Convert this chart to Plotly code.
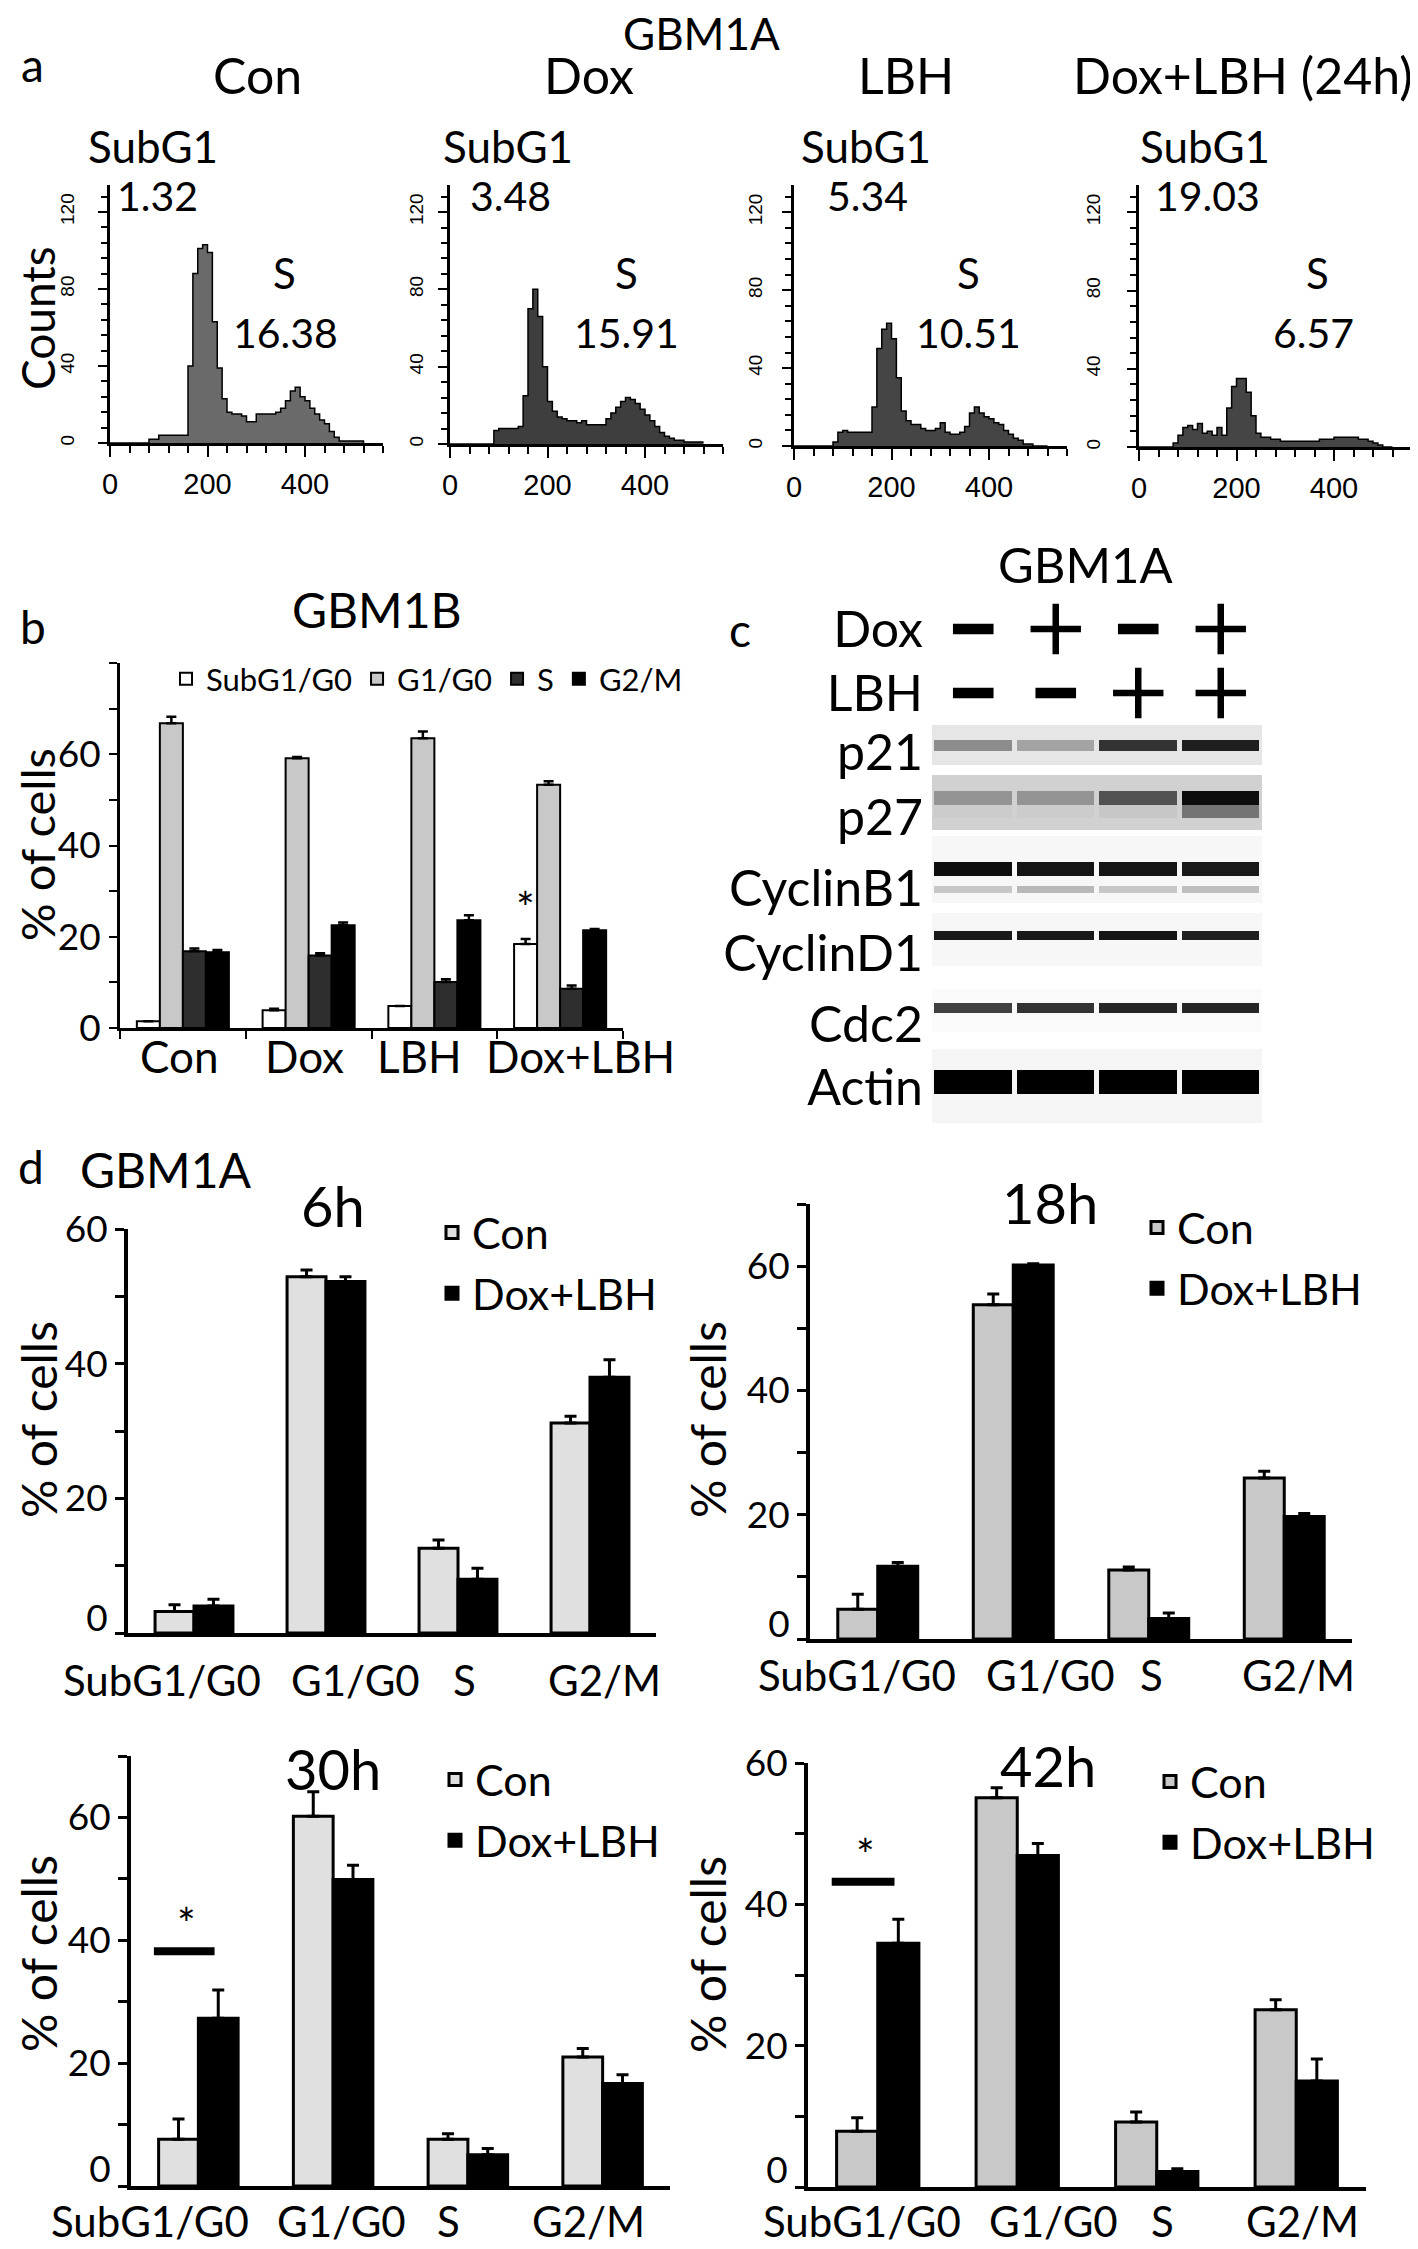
import plotly.graph_objects as go

# The page body adds an 8 px margin, so the figure is drawn 8 px smaller and positions are offset.
OFF = 8
W, H = 1418 - OFF, 2249 - OFF
FONT = "Lato"


def px_x(x):
    return (x - OFF) / W


def px_y(y):
    return 1 - (y - OFF) / H


def dom_x(left, right):
    return [px_x(left), px_x(right)]


def dom_y(top, bottom):
    return [px_y(bottom), px_y(top)]


# ---------------- DATA ----------------
# Panel a: flow cytometry histograms (GBM1A), DNA-content channel vs counts
channel = [0, 10, 20, 30, 40, 50, 60, 70, 80, 90, 100, 110, 120, 130, 140, 150, 160, 170, 180, 190,
           200, 210, 220, 230, 240, 250, 260, 270, 280, 290, 300, 310, 320, 330, 340, 350, 360, 370,
           380, 390, 400, 410, 420, 430, 440, 450, 460, 470, 480, 490, 500, 510, 520]
counts_con = [0, 0, 0, 0, 0, 0, 0, 0, 2, 2, 4, 4, 4, 4, 4, 4, 40, 88, 101, 103, 99, 63, 39, 23, 16, 15,
              15, 14, 11, 11, 15, 15, 15, 15, 16, 18, 22, 27, 29, 24, 22, 18, 15, 12, 10, 6, 3, 1, 1, 1,
              1, 1, 0]
counts_dox = [0, 0, 0, 0, 0, 0, 0, 0, 0, 7, 8, 8, 8, 8, 9, 25, 70, 80, 66, 40, 22, 17, 14, 13, 12, 12,
              11, 12, 10, 10, 10, 10, 13, 16, 19, 22, 24, 23, 21, 18, 15, 12, 9, 6, 4, 3, 2, 2, 1, 1,
              1, 1, 1]
counts_lbh = [0, 0, 0, 0, 0, 0, 0, 0, 2, 7, 8, 7, 7, 7, 7, 7, 20, 50, 60, 63, 55, 35, 18, 13, 11, 11,
              9, 8, 8, 9, 12, 7, 6, 6, 7, 10, 17, 20, 17, 15, 14, 12, 11, 8, 6, 4, 3, 1, 1, 0, 0, 0, 0]
counts_doxlbh = [0, 0, 0, 0, 0, 0, 0, 2, 6, 10, 11, 9, 12, 7, 8, 6, 10, 6, 20, 31, 35, 35, 28, 16, 7,
                 5, 5, 4, 4, 3, 3, 3, 3, 3, 3, 3, 3, 4, 4, 4, 5, 5, 5, 5, 5, 4, 4, 3, 2, 1, 0, 0, 0]
hist_titles = ["Con", "Dox", "LBH", "Dox+LBH (24h)"]
subg1_pct = ["1.32", "3.48", "5.34", "19.03"]
s_pct = ["16.38", "15.91", "10.51", "6.57"]

# Panel b: GBM1B cell-cycle distribution
b_groups = ["Con", "Dox", "LBH", "Dox+LBH"]
b_phases = ["SubG1/G0", "G1/G0", "S", "G2/M"]
b_subg1 = [1.5, 3.9, 4.8, 18.4]
b_subg1_err = [0.0, 0.3, 0.0, 1.1]
b_g1 = [66.8, 59.1, 63.5, 53.3]
b_g1_err = [1.4, 0.3, 1.5, 0.8]
b_s = [16.8, 15.9, 10.1, 8.6]
b_s_err = [0.6, 0.5, 0.6, 0.7]
b_g2m = [16.6, 22.5, 23.6, 21.4]
b_g2m_err = [0.5, 0.6, 1.1, 0.3]

# Panel c: western blot (GBM1A), relative band darkness 0..1 per lane
lanes = [1, 2, 3, 4]
dox_treat = ["-", "+", "-", "+"]
lbh_treat = ["-", "-", "+", "+"]
blot_names = ["p21", "p27", "CyclinB1", "CyclinD1", "Cdc2", "Actin"]
band_p21 = [0.45, 0.36, 0.80, 0.88]
band_p27 = [0.42, 0.42, 0.68, 0.95]
band_p27_smear = [0.20, 0.20, 0.22, 0.55]
band_cyclinb1 = [0.95, 0.92, 0.92, 0.90]
band_cyclinb1_low = [0.22, 0.28, 0.22, 0.25]
band_cyclind1 = [0.90, 0.90, 0.92, 0.88]
band_cdc2 = [0.75, 0.80, 0.85, 0.85]
band_actin = [1.0, 1.0, 1.0, 1.0]
blot_background = [0.10, 0.18, 0.03, 0.03, 0.02, 0.04]

# Panel d: GBM1A time course
d_phases = ["SubG1/G0", "G1/G0", "S", "G2/M"]
d_times = ["6h", "18h", "30h", "42h"]
d6_con = [3.2, 52.9, 12.6, 31.2]
d6_con_err = [1.0, 1.0, 1.2, 1.0]
d6_dl = [4.0, 52.2, 8.0, 38.0]
d6_dl_err = [1.0, 0.7, 1.6, 2.6]
d18_con = [4.8, 53.8, 11.1, 25.9]
d18_con_err = [2.4, 1.7, 0.5, 1.1]
d18_dl = [11.7, 60.2, 3.3, 19.7]
d18_dl_err = [0.6, 0.2, 0.9, 0.5]
d30_con = [7.6, 60.2, 7.6, 21.0]
d30_con_err = [3.3, 4.0, 0.9, 1.4]
d30_dl = [27.3, 49.9, 5.1, 16.7]
d30_dl_err = [4.6, 2.3, 1.0, 1.4]
d42_con = [7.9, 55.1, 9.2, 25.1]
d42_con_err = [1.9, 1.4, 1.4, 1.4]
d42_dl = [34.5, 46.9, 2.2, 15.0]
d42_dl_err = [3.4, 1.7, 0.4, 3.1]
d_sig_level = {"30h": 38.2, "42h": 43.2}
d_tick_text = ["0", "20", "40", "60"]

# ---------------- FIGURE ----------------
fig = go.Figure()
layout = {}
annotations = []
shapes = []


def ann(text, x, y, size, family=FONT, **kw):
    d = dict(text=text, x=px_x(x), y=px_y(y), xref="paper", yref="paper", showarrow=False,
             font=dict(size=size, family=family, color="black"), xanchor="center", yanchor="middle")
    d.update(kw)
    return d


def sfx(i):
    return "" if i == 1 else str(i)


# ---- Panel a ----
hist_counts = [counts_con, counts_dox, counts_lbh, counts_doxlbh]
hist_fill = ["#6a6a6a", "#3e3e3e", "#454545", "#454545"]
hist_box = [(110, 383, 185, 443), (450, 723, 185, 444), (794, 1067, 185, 446), (1139, 1412, 185, 447)]
hist_lab_standoff = [17, 8, 13, 20]
for i in range(1, 5):
    s = sfx(i)
    fig.add_trace(go.Scatter(x=channel, y=hist_counts[i - 1], xaxis="x" + s, yaxis="y" + s, mode="lines",
                             line=dict(color="black", width=1.5, shape="hv"), fill="tozeroy",
                             fillcolor=hist_fill[i - 1], showlegend=False, hoverinfo="skip"))
    l, r, t, b = hist_box[i - 1]
    layout["xaxis" + s] = dict(domain=dom_x(l, r), anchor="y" + s, range=[0, 560], tickmode="linear",
                               tick0=0, dtick=200, ticks="outside", ticklen=11, tickwidth=2,
                               tickcolor="black",
                               minor=dict(tick0=0, dtick=40, ticks="outside", ticklen=7, tickwidth=2,
                                          tickcolor="black"),
                               showline=True, linewidth=2.5, linecolor="black", showgrid=False,
                               zeroline=False, ticklabelstandoff=2,
                               tickfont=dict(family="Liberation Sans", size=29, color="black"))
    layout["yaxis" + s] = dict(domain=dom_y(t, b), anchor="x" + s, range=[0, 134], tickmode="linear",
                               tick0=0, dtick=40, tickangle=-90, ticks="outside", ticklen=9, tickwidth=2,
                               tickcolor="black",
                               minor=dict(tick0=0, dtick=8, ticks="outside", ticklen=6, tickwidth=2,
                                          tickcolor="black"),
                               showline=True, linewidth=2.5, linecolor="black", showgrid=False,
                               zeroline=False, ticklabelstandoff=hist_lab_standoff[i - 1],
                               tickfont=dict(family="Liberation Sans", size=19, color="black"))

annotations.append(ann("Counts", 37, 318, 46, textangle=-90))
annotations.append(ann("GBM1A", 701, 33, 44))
annotations.append(ann("a", 32, 64, 46))
for xc, title in zip([257, 589, 906, 1243], hist_titles):
    annotations.append(ann(title, xc, 75, 50))
for xc, v in zip([153, 508, 866, 1205], subg1_pct):
    annotations.append(ann("SubG1", xc, 146, 44))
for xc, v in zip([157, 510, 867, 1207], subg1_pct):
    annotations.append(ann(v, xc, 195, 41))
for xc in [284, 626, 968, 1317]:
    annotations.append(ann("S", xc, 273, 42))
for xc, v in zip([285, 626, 968, 1313], s_pct):
    annotations.append(ann(v, xc, 332, 41))

# ---- Panel b ----
b_series = [(b_subg1, b_subg1_err, "white"), (b_g1, b_g1_err, "#c8c8c8"),
            (b_s, b_s_err, "#2e2e2e"), (b_g2m, b_g2m_err, "black")]
bw = 0.183
for k, (name, (vals, errs, col)) in enumerate(zip(b_phases, b_series)):
    fig.add_trace(go.Bar(x=b_groups, y=vals, name=name, xaxis="x5", yaxis="y5", width=bw,
                         offset=-2 * bw + k * bw,
                         marker=dict(color=col, line=dict(color="black", width=2)),
                         error_y=dict(type="data", array=errs, arrayminus=[0, 0, 0, 0], symmetric=False,
                                      color="black", thickness=2.5, width=5),
                         legend="legend", hoverinfo="skip"))
layout["xaxis5"] = dict(domain=dom_x(120, 623), anchor="y5", range=[-0.5, 3.5], type="category",
                        showline=True, linewidth=3, linecolor="black", ticks="outside",
                        tickson="boundaries", ticklen=8, tickwidth=2, tickcolor="black", showgrid=False,
                        showticklabels=False)
layout["yaxis5"] = dict(domain=dom_y(663, 1028), anchor="x5", range=[0, 80], tickmode="array",
                        tickvals=[0, 20, 40, 60], ticks="outside", ticklen=8, tickwidth=2,
                        tickcolor="black",
                        minor=dict(tickmode="linear", tick0=0, dtick=10, ticks="outside", ticklen=8,
                                   tickwidth=2, tickcolor="black"),
                        showline=True, linewidth=3, linecolor="black", showgrid=False, zeroline=False,
                        ticklabelstandoff=1,
                        tickfont=dict(size=37, family=FONT, color="black"))
layout["legend"] = dict(orientation="h", x=px_x(166), y=px_y(652), xanchor="left", yanchor="top",
                        font=dict(size=31, family=FONT, color="black"), bgcolor="rgba(0,0,0,0)",
                        itemclick=False, itemdoubleclick=False)
for xc, g in zip([179, 304, 420, 580], b_groups):
    annotations.append(ann(g, xc, 1056, 44))
annotations.append(ann("% of cells", 37, 845, 47, textangle=-90))
annotations.append(ann("b", 33, 626, 46))
annotations.append(ann("GBM1B", 377, 610, 48))
annotations.append(dict(text="*", x=b_groups[3], y=b_subg1[3] + b_subg1_err[3], xref="x5", yref="y5",
                        xshift=-2 * bw * 125.75 + bw * 125.75 / 2, yshift=32, showarrow=False,
                        font=dict(size=44, family=FONT, color="black")))

# ---- Panel c ----
blot_geom = {  # strip top, strip bottom, band top, band bottom (page px)
    "p21": (714, 765, 740, 751),
    "p27": (775, 830, 791, 805),
    "CyclinB1": (836, 903, 862, 876),
    "CyclinD1": (913, 966, 931, 940),
    "Cdc2": (989, 1032, 1003, 1013),
    "Actin": (1049, 1123, 1070, 1094),
}
blot_bands = [band_p21, band_p27, band_cyclinb1, band_cyclind1, band_cdc2, band_actin]
lane_edges = [0.5, 1.5, 2.5, 3.5, 4.5]
grey = [[0, "#ffffff"], [1, "#000000"]]
for name, bands, bg in zip(blot_names, blot_bands, blot_background):
    st, sb, bt, bb = blot_geom[name]
    fig.add_trace(go.Heatmap(x=[0.5, 4.5], y=[st, sb], z=[[bg]], xaxis="x6", yaxis="y6",
                             colorscale=grey, zmin=0, zmax=1, showscale=False, hoverinfo="skip"))
    fig.add_trace(go.Heatmap(x=lane_edges, y=[bt, bb], z=[bands], xaxis="x6", yaxis="y6", xgap=5,
                             colorscale=grey, zmin=0, zmax=1, showscale=False, hoverinfo="skip"))
fig.add_trace(go.Heatmap(x=lane_edges, y=[805, 818], z=[band_p27_smear], xaxis="x6", yaxis="y6", xgap=5,
                         colorscale=grey, zmin=0, zmax=1, showscale=False, hoverinfo="skip"))
fig.add_trace(go.Heatmap(x=lane_edges, y=[886, 893], z=[band_cyclinb1_low], xaxis="x6", yaxis="y6",
                         xgap=5, colorscale=grey, zmin=0, zmax=1, showscale=False, hoverinfo="skip"))
layout["xaxis6"] = dict(domain=dom_x(932, 1262), anchor="y6", range=[0.5, 4.5], visible=False)
layout["yaxis6"] = dict(domain=dom_y(705, 1125), anchor="x6", range=[1125, 705],
                        showgrid=False, zeroline=False, showline=False, ticks="", tickmode="array",
                        tickvals=[752, 817, 888, 953, 1024, 1087],
                        ticktext=blot_names, ticklabelstandoff=8,
                        tickfont=dict(size=50, family=FONT, color="black"))


def sign_marker(seq):
    sym = ["cross-thin" if s == "+" else "line-ew" for s in seq]
    size = [36 if s == "+" else 29 for s in seq]
    lw = [6.5 if s == "+" else 10.5 for s in seq]
    return dict(symbol=sym, size=size, color="black", opacity=1,
                line=dict(color="rgb(0,0,0)", width=lw))


fig.add_trace(go.Scatter(x=lanes, y=["Dox"] * 4, mode="markers", marker=sign_marker(dox_treat),
                         xaxis="x7", yaxis="y7", showlegend=False, hoverinfo="skip", cliponaxis=False))
fig.add_trace(go.Scatter(x=lanes, y=["LBH"] * 4, mode="markers", marker=sign_marker(lbh_treat),
                         xaxis="x7", yaxis="y7", showlegend=False, hoverinfo="skip", cliponaxis=False))
layout["xaxis7"] = dict(domain=dom_x(932, 1262), anchor="y7", range=[0.5, 4.5], visible=False)
layout["yaxis7"] = dict(domain=dom_y(597, 725), anchor="x7", type="category",
                        categoryarray=["LBH", "Dox"], range=[-0.5, 1.5], showgrid=False, zeroline=False,
                        showline=False, ticks="", ticklabelstandoff=8,
                        tickfont=dict(size=50, family=FONT, color="black"))
annotations.append(ann("c", 740, 630, 46))
annotations.append(ann("GBM1A", 1085, 564, 49))

# ---- Panel d ----
d_sets = [
    (d6_con, d6_con_err, d6_dl, d6_dl_err, "#e0e0e0"),
    (d18_con, d18_con_err, d18_dl, d18_dl_err, "#c8c8c8"),
    (d30_con, d30_con_err, d30_dl, d30_dl_err, "#e0e0e0"),
    (d42_con, d42_con_err, d42_dl, d42_dl_err, "#c8c8c8"),
]
d_box = [(128, 656, 1229, 1633, 60), (810, 1352, 1204, 1639, 70),
         (131, 670, 1756, 2186, 70), (808, 1366, 1763, 2187, 60)]
d_zero_label_lift = [2.2, 2.4, 2.7, 2.4]   # the "0" label sits a little above its tick
d_title_pos = [(333, 1206), (1050, 1202), (333, 1768), (1048, 1765)]
d_ylabel_pos = [(38, 1420), (707, 1420), (38, 1954), (707, 1955)]
d_label_px = [([162, 355, 464, 604], 1680), ([857, 1050, 1151, 1298], 1675),
              ([150, 341, 448, 588], 2221), ([862, 1053, 1162, 1302], 2221)]
d_legend_pos = [(432, 1198), (1137, 1193), (435, 1745), (1150, 1747)]
dw = 0.295
for k, (t, (con, con_e, dl, dl_e, ccol)) in enumerate(zip(d_times, d_sets)):
    n = 8 + k
    lab_ax = 12 + k
    lg = "legend" + str(2 + k)
    fig.add_trace(go.Bar(x=d_phases, y=con, name="Con", xaxis="x%d" % n, yaxis="y%d" % n, width=dw,
                         offset=-dw, marker=dict(color=ccol, line=dict(color="black", width=3)),
                         error_y=dict(type="data", array=con_e, arrayminus=[0, 0, 0, 0], symmetric=False,
                                      color="black", thickness=3, width=6),
                         legend=lg, legendgroup=t + "con", hoverinfo="skip"))
    fig.add_trace(go.Bar(x=d_phases, y=dl, name="Dox+LBH", xaxis="x%d" % n, yaxis="y%d" % n, width=dw,
                         offset=0, marker=dict(color="black", line=dict(color="black", width=3)),
                         error_y=dict(type="data", array=dl_e, arrayminus=[0, 0, 0, 0], symmetric=False,
                                      color="black", thickness=3, width=6),
                         legend=lg, legendgroup=t + "dl", hoverinfo="skip"))
    l, r, tp, bt, ymax = d_box[k]
    layout["xaxis%d" % n] = dict(domain=dom_x(l, r), anchor="y%d" % n, type="category",
                                 range=[-0.5, 3.5], showline=True, linewidth=3.5, linecolor="black",
                                 ticks="", showticklabels=False, showgrid=False)
    layout["yaxis%d" % n] = dict(domain=dom_y(tp, bt), anchor="x%d" % n, range=[0, ymax],
                                 tickmode="linear", tick0=0, dtick=10, ticks="outside", ticklen=9,
                                 tickwidth=3, tickcolor="black", showticklabels=False,
                                 showline=True, linewidth=3.5, linecolor="black", showgrid=False,
                                 zeroline=False)
    # tick labels (the "0" label is drawn slightly raised, as in the original figure)
    layout["yaxis%d" % lab_ax] = dict(overlaying="y%d" % n, anchor="x%d" % n, side="left",
                                      range=[0, ymax], tickmode="array",
                                      tickvals=[d_zero_label_lift[k], 20, 40, 60], ticktext=d_tick_text,
                                      ticks="outside", ticklen=9, tickcolor="rgba(0,0,0,0)",
                                      showline=False, showgrid=False, zeroline=False,
                                      ticklabelstandoff=3,
                                      tickfont=dict(size=37, family=FONT, color="black"))
    fig.add_trace(go.Scatter(x=[], y=[], xaxis="x%d" % n, yaxis="y%d" % lab_ax, showlegend=False,
                             hoverinfo="skip"))
    lx, ly = d_legend_pos[k]
    layout[lg] = dict(x=px_x(lx), y=px_y(ly), xanchor="left", yanchor="top", orientation="v",
                      font=dict(size=43, family=FONT, color="black"), bgcolor="rgba(0,0,0,0)",
                      tracegroupgap=2, itemclick=False, itemdoubleclick=False)
    tx, ty = d_title_pos[k]
    annotations.append(ann(t, tx, ty, 56))
    yx, yy = d_ylabel_pos[k]
    annotations.append(ann("% of cells", yx, yy, 48, textangle=-90))
    xs, ly2 = d_label_px[k]
    for xc, lab in zip(xs, d_phases):
        annotations.append(ann(lab, xc, ly2, 42))
    if t in d_sig_level:
        lev = d_sig_level[t]
        shapes.append(dict(type="line", xref="x%d" % n, yref="y%d" % n, x0=-0.33, x1=0.12, y0=lev, y1=lev,
                           line=dict(color="black", width=8)))
        annotations.append(dict(text="*", x=d_phases[0], y=lev, xref="x%d" % n, yref="y%d" % n,
                                showarrow=False, xshift=-12, yshift=28,
                                font=dict(size=44, family=FONT, color="black")))

annotations.append(ann("d", 31, 1166, 46))
annotations.append(ann("GBM1A", 166, 1169, 48))

fig.update_layout(
    width=W, height=H, margin=dict(l=0, r=0, t=0, b=0, pad=0, autoexpand=False),
    paper_bgcolor="white", plot_bgcolor="white",
    font=dict(family=FONT, color="black"),
    barmode="group", hovermode=False, showlegend=True,
    annotations=annotations, shapes=shapes,
    **layout,
)

fig.write_html("out.html")
